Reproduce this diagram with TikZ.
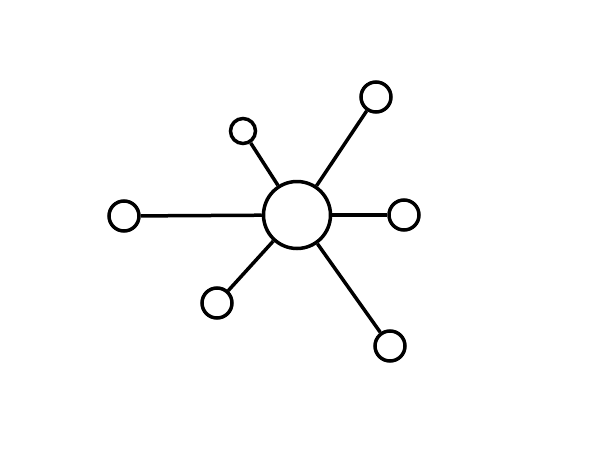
\documentclass[tikz,border=0pt]{standalone}
\usepackage{tikz}

\begin{document}
\begin{tikzpicture}[x=1pt, y=-1pt, line width=3.5pt,
    hub/.style={draw, circle, inner sep=0pt, minimum size=67pt},
    leaf/.style={draw, circle, inner sep=0pt, minimum size=#1}]
        \useasboundingbox (0,0) rectangle (600,450);
        \node [hub] (hub) at (297,215) {};
        \node [leaf=30pt] (west) at (124,216) {};
        \node [leaf=25pt] (nw) at (243,131) {};
        \node [leaf=30pt] (ne) at (376,97) {};
        \node [leaf=30pt] (east) at (404,215) {};
        \node [leaf=30pt] (sw) at (217,303) {};
        \node [leaf=30pt] (se) at (390,346) {};

        \foreach \n in {west, nw, ne, east, sw, se}
          \draw (hub) -- (\n);
\end{tikzpicture}
\end{document}
